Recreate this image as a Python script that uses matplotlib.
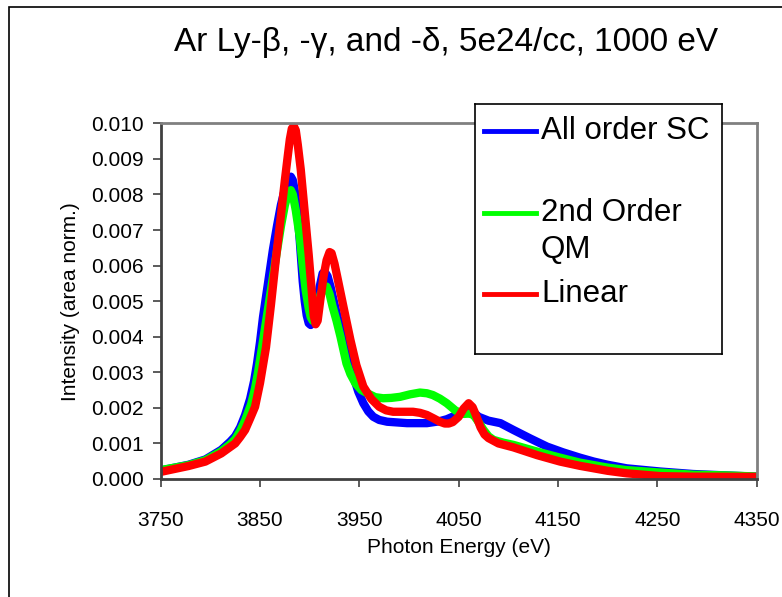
import matplotlib
matplotlib.use("Agg")
import matplotlib.pyplot as plt
from matplotlib.lines import Line2D
from matplotlib.patches import Rectangle

plt.rcParams['font.family'] = ['Liberation Sans', 'DejaVu Sans']

# Ar Ly-beta/gamma/delta line shapes (intensity in units of 1e-3)
e_sc = [3750, 3778, 3795, 3811, 3820, 3825, 3830, 3835, 3840, 3844, 3847, 3850, 3853,
        3858, 3863, 3867, 3871, 3875, 3878, 3881, 3883, 3885, 3888, 3890, 3893, 3895,
        3897, 3899, 3901, 3904, 3907, 3910, 3913, 3915, 3918, 3921, 3924, 3929, 3934,
        3939, 3944, 3949, 3954, 3959, 3964, 3970, 3978, 3998, 4018, 4030, 4038, 4048,
        4055, 4061, 4066, 4070, 4080, 4092, 4105, 4122, 4139, 4155, 4172, 4186, 4200,
        4219, 4253, 4286, 4320, 4350]
i_sc = [0.24, 0.40, 0.55, 0.82, 1.05, 1.20, 1.45, 1.8, 2.25, 2.75, 3.25, 3.85, 4.55,
        5.5, 6.45, 7.1, 7.7, 8.15, 8.4, 8.5, 8.4, 8.1, 7.4, 6.7, 5.55, 5.0,
        4.6, 4.38, 4.33, 4.45, 4.9, 5.4, 5.78, 5.83, 5.7, 5.4, 5.03, 4.45, 3.91,
        3.35, 2.88, 2.45, 2.13, 1.9, 1.75, 1.66, 1.61, 1.57, 1.57, 1.62, 1.68, 1.80,
        1.86, 1.89, 1.85, 1.75, 1.64, 1.57, 1.38, 1.14, 0.91, 0.75, 0.60, 0.49, 0.40,
        0.30, 0.21, 0.14, 0.10, 0.065]

e_qm = [3750, 3778, 3795, 3811, 3820, 3825, 3830, 3835, 3841, 3845, 3848, 3852, 3857,
        3862, 3867, 3871, 3875, 3878, 3881, 3883, 3886, 3890, 3893, 3896, 3899, 3901,
        3903, 3905, 3908, 3911, 3914, 3917, 3920, 3923, 3927, 3931, 3937, 3941, 3946,
        3952, 3958, 3966, 3974, 3982, 3991, 4001, 4011, 4018, 4024, 4031, 4038, 4047,
        4055, 4061, 4065, 4070, 4075, 4080, 4085, 4095, 4105, 4129, 4152, 4172, 4186,
        4200, 4219, 4253, 4286, 4320, 4350]
i_qm = [0.25, 0.39, 0.53, 0.78, 0.98, 1.12, 1.35, 1.65, 2.1, 2.55, 3.0, 3.7, 4.6,
        5.5, 6.4, 7.1, 7.7, 8.0, 8.12, 8.0, 7.55, 6.8, 6.0, 5.3, 4.8, 4.55,
        4.45, 4.55, 4.9, 5.2, 5.38, 5.41, 5.2, 4.85, 4.45, 4.0, 3.25, 2.95, 2.69,
        2.5, 2.41, 2.3, 2.27, 2.28, 2.31, 2.38, 2.43, 2.41, 2.36, 2.26, 2.13, 1.92,
        1.83, 1.84, 1.80, 1.6, 1.38, 1.2, 1.10, 1.02, 0.96, 0.77, 0.60, 0.46, 0.39,
        0.32, 0.25, 0.18, 0.12, 0.10, 0.07]

e_lin = [3750, 3778, 3795, 3811, 3820, 3825, 3830, 3835, 3840, 3845, 3850, 3856, 3861,
         3866, 3871, 3875, 3878, 3880, 3882, 3884, 3886, 3888, 3891, 3895, 3899, 3902,
         3904, 3906, 3908, 3911, 3914, 3917, 3920, 3922, 3925, 3928, 3934, 3941, 3947,
         3954, 3962, 3970, 3977, 3984, 4004, 4011, 4018, 4025, 4031, 4036, 4040, 4044,
         4050, 4055, 4060, 4064, 4068, 4072, 4076, 4080, 4090, 4105, 4129, 4152, 4172,
         4186, 4200, 4219, 4253, 4286, 4350]
i_lin = [0.20, 0.365, 0.49, 0.72, 0.9, 1.0, 1.18, 1.38, 1.7, 2.03, 2.7, 3.7, 4.9,
         6.2, 7.4, 8.4, 9.1, 9.55, 9.85, 9.92, 9.8, 9.4, 8.7, 7.5, 6.3, 5.3,
         4.6, 4.35, 4.45, 5.1, 5.7, 6.15, 6.38, 6.35, 6.05, 5.65, 4.84, 3.91, 3.2,
         2.6, 2.25, 2.03, 1.93, 1.89, 1.89, 1.86, 1.80, 1.70, 1.61, 1.56, 1.56, 1.60,
         1.75, 1.98, 2.13, 2.02, 1.75, 1.45, 1.25, 1.15, 1.0, 0.89, 0.67, 0.49, 0.37,
         0.30, 0.23, 0.16, 0.08, 0.065, 0.06]

labels = ["All order SC", "2nd Order\nQM", "Linear"]
colors = ["#0000ff", "#00ff00", "#ff0000"]
series = [(e_sc, i_sc), (e_qm, i_qm), (e_lin, i_lin)]

xticks = [3750, 3850, 3950, 4050, 4150, 4250, 4350]
yticks = [i * 0.001 for i in range(11)]

W, H = 782, 597
fig = plt.figure(figsize=(W / 100, H / 100), dpi=100)

# outer chart border (cut off at right/bottom like the picture)
fig.patches.append(Rectangle((9 / W, -0.1), 1.2, 1.1 - 7 / H, transform=fig.transFigure,
                             fill=False, edgecolor='black', linewidth=1.2))

ax = fig.add_axes([160.7 / W, (H - 479) / H, 596 / W, 355.7 / H])
for (x, y), c in zip(series, colors):
    ax.plot(x, [v * 1e-3 for v in y], color=c, linewidth=6, solid_capstyle='butt',
            solid_joinstyle='round')

ax.set_xlim(3750, 4350)
ax.set_ylim(0, 0.010)
ax.set_xticks(xticks)
ax.set_yticks(yticks)
ax.yaxis.set_major_formatter(plt.FormatStrFormatter('%.3f'))
ax.tick_params(axis='both', direction='out', length=6, width=1.2, color='#404040',
               labelsize=15)
ax.tick_params(axis='x', pad=17)
ax.tick_params(axis='y', pad=6)
for s in ['left', 'bottom']:
    ax.spines[s].set_color('#404040')
    ax.spines[s].set_linewidth(2)
for s in ['top', 'right']:
    ax.spines[s].set_color('#808080')
    ax.spines[s].set_linewidth(2)

ax.set_xlabel("Photon Energy (eV)", fontsize=15, labelpad=6)
ax.set_ylabel("Intensity (area norm.)", fontsize=15, labelpad=8)

fig.text(446 / W, 1 - 43 / H, "Ar Ly-β, -γ, and -δ, 5e24/cc, 1000 eV",
         fontsize=24, ha='center', va='center')

# Excel-style legend box
lg = fig.add_axes([475 / W, (H - 354) / H, 247 / W, 250 / H])
lg.set_xlim(0, 247)
lg.set_ylim(250, 0)
lg.set_xticks([])
lg.set_yticks([])
for s in lg.spines.values():
    s.set_color('black')
    s.set_linewidth(1.2)
rows = [27, 109, 190]
for lab, c, yy in zip(labels, colors, rows):
    lg.add_line(Line2D([9, 61], [yy, yy], color=c, linewidth=3.5))
    for k, part in enumerate(lab.split("\n")):
        lg.text(66, yy + k * 37, part, fontsize=22.5, ha='left', va='center')

fig.savefig("out.png", dpi=100)
